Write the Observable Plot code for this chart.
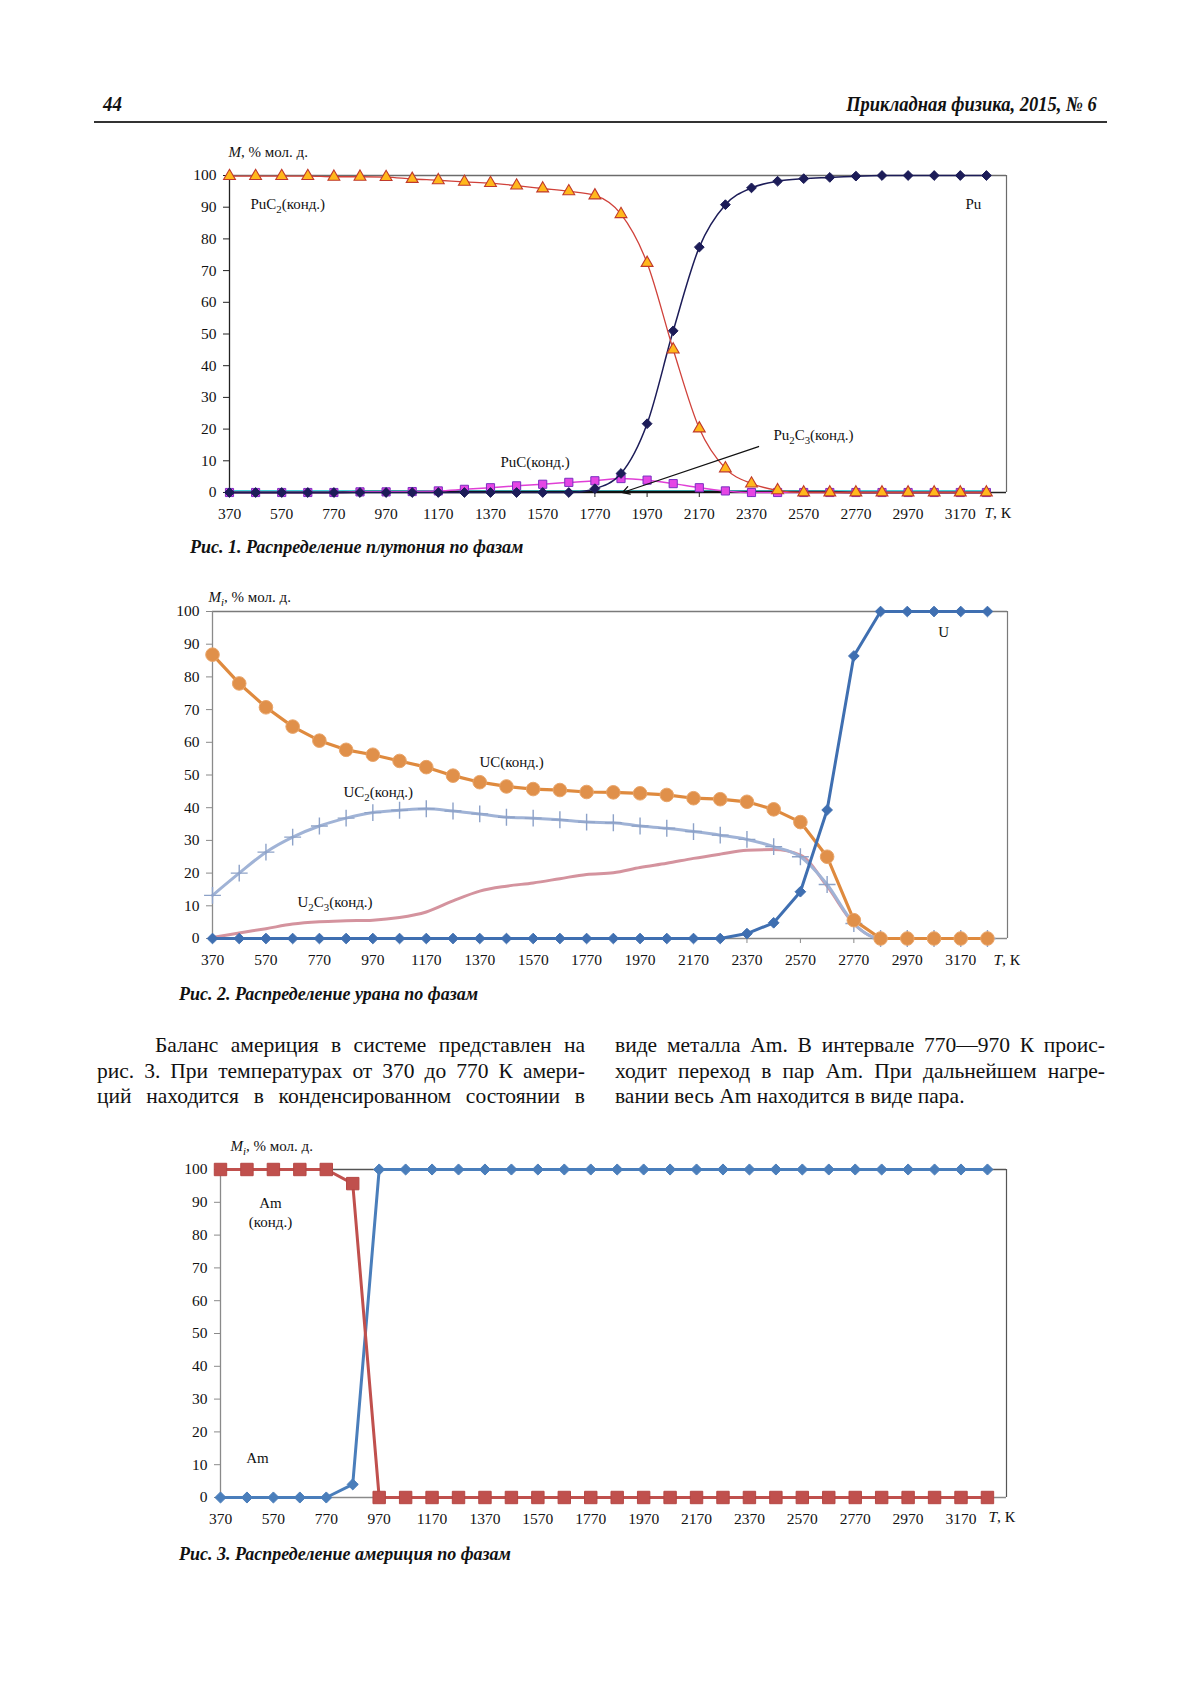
<!DOCTYPE html>
<html lang="ru">
<head>
<meta charset="utf-8">
<script src="https://cdn.jsdelivr.net/npm/d3@7"></script>
<script src="https://cdn.jsdelivr.net/npm/@observablehq/plot@0.6"></script>
<style>
  html, body { margin: 0; padding: 0; background: #fff; }
  body { width: 1200px; height: 1698px; position: relative; overflow: hidden;
         font-family: "Liberation Serif", "Times New Roman", serif; color: #111; }
  .abs { position: absolute; white-space: nowrap; }
  .hdr { font-weight: bold; font-style: italic; font-size: 21px; line-height: 24px; }
  .cap { font-weight: bold; font-style: italic; font-size: 18px; line-height: 20px; }
  .col { position: absolute; font-size: 21.5px; line-height: 25.5px; }
  .col div { text-align: justify; text-align-last: justify; }
  .col div.last { text-align: left; text-align-last: left; }
  .chart { position: absolute; left: 0; }
</style>
</head>
<body>
<div class="abs hdr" style="left:103px; top:92px; transform: scaleX(0.9); transform-origin: left;">44</div>
<div class="abs hdr" style="right:103px; top:92px; transform: scaleX(0.88); transform-origin: right;">Прикладная физика, 2015, № 6</div>
<div class="abs" style="left:94px; top:121px; width:1013px; height:2px; background:#333;"></div>

<div id="c1" class="chart" style="top:130px;"></div>
<div class="abs cap" style="left:190px; top:537px;">Рис. 1. Распределение плутония по фазам</div>

<div id="c2" class="chart" style="top:580px;"></div>
<div class="abs cap" style="left:179px; top:984px;">Рис. 2. Распределение урана по фазам</div>

<div class="col" style="left:97px; top:1033px; width:488px;">
  <div style="text-indent:58px;">Баланс америция в системе представлен на</div>
  <div>рис. 3. При температурах от 370 до 770 К амери-</div>
  <div>ций находится в конденсированном состоянии в</div>
</div>
<div class="col" style="left:615px; top:1033px; width:490px;">
  <div>виде металла Am. В интервале 770—970 К проис-</div>
  <div>ходит переход в пар Am. При дальнейшем нагре-</div>
  <div class="last">вании весь Am находится в виде пара.</div>
</div>

<div id="c3" class="chart" style="top:1130px;"></div>
<div class="abs cap" style="left:179px; top:1544px;">Рис. 3. Распределение америция по фазам</div>

<script>
// ---------- shared categories / ticks ----------
const T = [370,470,570,670,770,870,970,1070,1170,1270,1370,1470,1570,1670,1770,1870,1970,2070,2170,2270,2370,2470,2570,2670,2770,2870,2970,3070,3170,3270];
const xTicks = [370,570,770,970,1170,1370,1570,1770,1970,2170,2370,2570,2770,2970,3170];
const yTicks = [0,10,20,30,40,50,60,70,80,90,100];

// ---------- Fig. 1: plutonium ----------
const puC2  = [99.8,99.8,99.8,99.8,99.6,99.6,99.5,98.9,98.5,98.0,97.6,96.8,95.9,95.0,93.7,87.8,72.4,45.1,20.2,7.6,2.8,0.7,0,0,0,0,0,0,0,0];
const pu    = [0,0,0,0,0,0,0,0,0,0,0,0,0,0,1.2,6.0,21.7,51.0,77.4,90.8,96.1,98.2,99.0,99.4,99.8,100,100,100,100,100];
const puC   = [0,0,0,0,0,0.2,0.2,0.3,0.5,1.0,1.5,2.1,2.6,3.2,3.7,4.4,3.9,2.8,1.5,0.5,0,0,0,0,0,0,0,0,0,0];
const pu2C3 = [0,0,0,0,0,0.2,0.2,0.2,0.2,0.2,0.2,0.2,0.2,0.2,0.2,0.2,0.2,0.2,0.2,0.2,0.2,0.2,0.2,0.2,0,0,0,0,0,0];
const puOther = [0.5,0.5,0.5,0.5,0.5,0.5,0.5,0.5,0.5,0.5,0.5,0.5,0.5,0.5,0.5,0.5,0.5,0.5,0.5,0.5,0.5,0.5,0.5,0.5,0.5,0.5,0.5,0.5,0.5,0.5];
const labels1 = [
  {x: 450,  y: 91,  text: "PuC_2(конд.)"},
  {x: 1408, y: 9.5, text: "PuC(конд.)"},
  {x: 3190, y: 91,  text: "Pu"},
  {x: 2454, y: 18,  text: "Pu_2C_3(конд.)"}
];
const arrow1 = [{x1: 2397, y1: 14.5, x2: 1876, y2: 0}];

// ---------- Fig. 2: uranium ----------
const uC   = [86.8,78.0,70.7,64.8,60.5,57.7,56.2,54.3,52.4,49.8,47.8,46.5,45.7,45.4,44.8,44.7,44.4,43.9,42.9,42.6,41.8,39.5,35.6,25.0,5.6,0,0,0,0,0];
const uC2  = [13.2,20.0,26.4,31.0,34.4,36.8,38.5,39.2,39.7,39.0,38.1,37.1,36.8,36.3,35.6,35.4,34.4,33.7,32.7,31.6,30.3,28.1,25.0,16.5,4.6,0,0,0,0,0];
const u2C3 = [0.3,1.7,3.0,4.4,5.1,5.4,5.6,6.4,8.1,11.5,14.5,16.0,17.0,18.3,19.6,20.1,21.7,23.0,24.5,25.8,27.0,27.2,25.5,16.0,4.5,0,0,0,0,0];
const uMet = [0,0,0,0,0,0,0,0,0,0,0,0,0,0,0,0,0,0,0,0,1.5,4.8,14.3,39.3,86.4,100,100,100,100,100];
const labels2 = [
  {x: 1369, y: 53.8, text: "UC(конд.)"},
  {x: 860,  y: 44.6, text: "UC_2(конд.)"},
  {x: 688,  y: 11,   text: "U_2C_3(конд.)"}
];
const labels2c = [{x: 3106, y: 93.6, text: "U"}];

// ---------- Fig. 3: americium ----------
const amCond = [100,100,100,100,100,95.7,0,0,0,0,0,0,0,0,0,0,0,0,0,0,0,0,0,0,0,0,0,0,0,0];
const amGas  = [0,0,0,0,0,4.0,100,100,100,100,100,100,100,100,100,100,100,100,100,100,100,100,100,100,100,100,100,100,100,100];
const labels3 = [
  {x: 559, y: 89.6, text: "Am"},
  {x: 559, y: 83.8, text: "(конд.)"},
  {x: 510, y: 11.9, text: "Am"}
];

const rows = s => T.map((t, i) => ({T: t, v: s[i]}));
const FONT = '"Liberation Serif", "Times New Roman", serif';

// rich text: *italic*, _X subscript (single char)
function rich(root) {
  root.querySelectorAll("text").forEach(t => {
    const s = t.textContent;
    if (!/[*_]/.test(s)) return;
    const parts = [];
    let italic = false, buf = "";
    const flush = () => { if (buf) parts.push({text: buf, italic, sub: false}); buf = ""; };
    for (let i = 0; i < s.length; i++) {
      const c = s[i];
      if (c === "*") { flush(); italic = !italic; }
      else if (c === "_") { flush(); parts.push({text: s[i + 1], italic, sub: true}); i++; }
      else buf += c;
    }
    flush();
    t.textContent = "";
    let shifted = false;
    parts.forEach(p => {
      const ts = document.createElementNS("http://www.w3.org/2000/svg", "tspan");
      ts.textContent = p.text;
      if (p.italic) ts.setAttribute("font-style", "italic");
      if (p.sub) {
        ts.setAttribute("font-size", "0.72em");
        if (!shifted) { ts.setAttribute("dy", "4"); shifted = true; }
      } else if (shifted) { ts.setAttribute("dy", "-4"); shifted = false; }
      t.appendChild(ts);
    });
  });
}

function chart({el, height, mt, mb, ml, mr, xmax, frameColor, axisColor, yLabel, yLabDx, yLabDy, tDx, tDy, marks}) {
  const p = Plot.plot({
    width: 1200, height,
    marginTop: mt, marginBottom: mb, marginLeft: ml, marginRight: mr,
    style: {fontFamily: FONT, fontSize: "15.5px", color: "#111", background: "transparent", overflow: "visible"},
    x: {domain: [370, xmax], label: null},
    y: {domain: [0, 100], label: null},
    marks: [
      Plot.ruleY([100], {stroke: frameColor, strokeWidth: 1.5}),
      Plot.ruleX([xmax], {y1: 0, y2: 100, stroke: frameColor, strokeWidth: 1.2}),
      Plot.ruleX([370], {y1: 0, y2: 100, stroke: axisColor, strokeWidth: 1.3}),
      Plot.ruleY([0], {stroke: axisColor, strokeWidth: 1.3}),
      Plot.axisX({ticks: xTicks, tickFormat: d => String(d), tickSize: 5, tickPadding: 10, stroke: axisColor, label: null}),
      Plot.axisY({ticks: yTicks, tickSize: 6, tickPadding: 7, stroke: axisColor, label: null}),
      ...marks,
      Plot.text([yLabel], {x: 370, y: 100, text: d => d, textAnchor: "start", dx: yLabDx, dy: yLabDy, fontSize: 15}),
      Plot.text(["*T*, К"], {x: 3270, y: 0, text: d => d, textAnchor: "start", dx: tDx, dy: tDy, fontSize: 15.5})
    ]
  });
  rich(p);
  document.getElementById(el).appendChild(p);
}

// ---------- draw Fig. 1 ----------
chart({
  el: "c1", height: 402, mt: 45, mb: 40, ml: 229, mr: 194, xmax: 3347,
  frameColor: "#6b6b6b", axisColor: "#222",
  yLabel: "*M*, % мол. д.", yLabDx: -1, yLabDy: -23, tDx: -2, tDy: 21,
  marks: [
    Plot.line(rows(puOther), {x: "T", y: "v", stroke: "#45cfd6", strokeWidth: 1.6}),
    Plot.line(rows(pu2C3), {x: "T", y: "v", stroke: "#111", strokeWidth: 2.2}),
    Plot.line(rows(puC), {x: "T", y: "v", stroke: "#e03fd6", strokeWidth: 1.5, curve: "monotone-x"}),
    Plot.dot(rows(puC), {x: "T", y: "v", symbol: "square", r: 4.6, fill: "#e545e5", stroke: "#7b2fc0", strokeWidth: 1}),
    Plot.line(rows(pu), {x: "T", y: "v", stroke: "#1c1c58", strokeWidth: 1.5, curve: "monotone-x"}),
    Plot.dot(rows(pu), {x: "T", y: "v", symbol: "diamond2", r: 4.4, fill: "#1c1c58", stroke: "#1c1c58", strokeWidth: 1}),
    Plot.line(rows(puC2), {x: "T", y: "v", stroke: "#d0413a", strokeWidth: 1.3, curve: "monotone-x"}),
    Plot.dot(rows(puC2), {x: "T", y: "v", symbol: "triangle", r: 4.4, fill: "#ffb81c", stroke: "#c0392b", strokeWidth: 1.1}),
    Plot.arrow(arrow1, {x1: "x1", y1: "y1", x2: "x2", y2: "y2", stroke: "#111", strokeWidth: 1.3, headLength: 9}),
    Plot.text(labels1, {x: "x", y: "y", text: "text", textAnchor: "start", fontSize: 15})
  ]
});

// ---------- draw Fig. 2 ----------
chart({
  el: "c2", height: 398, mt: 31, mb: 40, ml: 212, mr: 193, xmax: 3345,
  frameColor: "#7a7a7a", axisColor: "#8a8a8a",
  yLabel: "*M_i*, % мол. д.", yLabDx: -4, yLabDy: -14, tDx: 6, tDy: 22,
  marks: [
    Plot.line(rows(u2C3), {x: "T", y: "v", stroke: "#d4939e", strokeWidth: 3, curve: "monotone-x"}),
    Plot.line(rows(uC2), {x: "T", y: "v", stroke: "#a0b3d6", strokeWidth: 3, curve: "monotone-x"}),
    Plot.dot(rows(uC2), {x: "T", y: "v", symbol: "plus", r: 5.5, stroke: "#8da2c8", strokeWidth: 1.4}),
    Plot.line(rows(uC), {x: "T", y: "v", stroke: "#df8a3e", strokeWidth: 3.2}),
    Plot.dot(rows(uC), {x: "T", y: "v", r: 6.8, fill: "#e0904a", stroke: "#e9a56a", strokeWidth: 1}),
    Plot.line(rows(uMet), {x: "T", y: "v", stroke: "#3f6fb1", strokeWidth: 3}),
    Plot.dot(rows(uMet), {x: "T", y: "v", symbol: "diamond2", r: 4.8, fill: "#3f6fb1", stroke: "#3f6fb1", strokeWidth: 1}),
    Plot.text(labels2, {x: "x", y: "y", text: "text", textAnchor: "start", fontSize: 15}),
    Plot.text(labels2c, {x: "x", y: "y", text: "text", textAnchor: "middle", fontSize: 15})
  ]
});

// ---------- draw Fig. 3 ----------
chart({
  el: "c3", height: 407, mt: 39, mb: 40, ml: 220, mr: 194, xmax: 3342,
  frameColor: "#555", axisColor: "#8a8a8a",
  yLabel: "*M_i*, % мол. д.", yLabDx: 10, yLabDy: -23, tDx: 1, tDy: 20,
  marks: [
    Plot.line(rows(amGas), {x: "T", y: "v", stroke: "#4a7ebb", strokeWidth: 3}),
    Plot.dot(rows(amGas), {x: "T", y: "v", symbol: "diamond2", r: 5, fill: "#4a7ebb", stroke: "#4a7ebb", strokeWidth: 1}),
    Plot.line(rows(amCond), {x: "T", y: "v", stroke: "#c0504d", strokeWidth: 3}),
    Plot.dot(rows(amCond), {x: "T", y: "v", symbol: "square", r: 7, fill: "#c0504d", stroke: "#b54744", strokeWidth: 1}),
    Plot.text(labels3, {x: "x", y: "y", text: "text", textAnchor: "middle", fontSize: 15})
  ]
});
</script>
</body>
</html>
